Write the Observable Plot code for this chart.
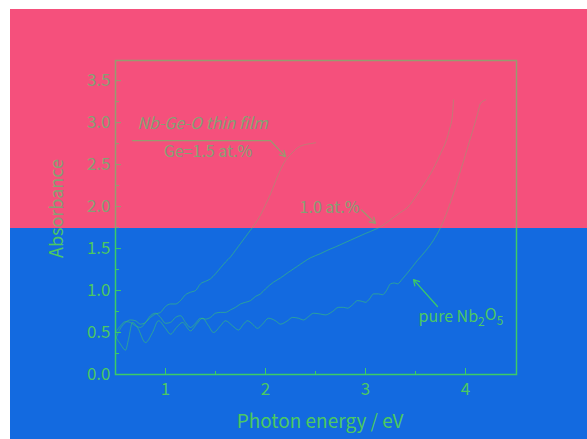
<!DOCTYPE html>
<html><head><meta charset="utf-8">
<script src="https://cdn.jsdelivr.net/npm/d3@7"></script>
<script src="https://cdn.jsdelivr.net/npm/@observablehq/plot@0.6"></script>
<style>
body{margin:0;background:#fff;width:587px;height:439px;overflow:hidden;}
#wrap{position:absolute;left:10px;top:9px;width:577px;height:430px;background:linear-gradient(#F5507C 0,#F5507C 219px,#136AE0 219px,#136AE0 100%);}
</style></head><body><div id="wrap"></div>
<script>
// ---- data ----
const ge15Energy = [0.5,0.55,0.6,0.65,0.7,0.75,0.8,0.85,0.9,0.95,1.0,1.05,1.1,1.15,1.2,1.25,1.3,1.35,1.4,1.45,1.5,1.55,1.6,1.65,1.7,1.75,1.8,1.85,1.9,1.95,2.0,2.05,2.1,2.15,2.2,2.25,2.3,2.35,2.4,2.45,2.5];
const ge15Abs = [0.42,0.55,0.62,0.65,0.64,0.6,0.62,0.68,0.72,0.74,0.81,0.84,0.84,0.88,0.95,0.98,1.0,1.08,1.11,1.14,1.2,1.27,1.34,1.4,1.48,1.56,1.64,1.72,1.8,1.9,2.02,2.15,2.3,2.44,2.55,2.62,2.68,2.72,2.74,2.75,2.76];

const ge10Energy = [0.5,0.55,0.6,0.65,0.7,0.75,0.8,0.85,0.9,0.95,1.0,1.05,1.1,1.15,1.2,1.25,1.3,1.35,1.4,1.45,1.5,1.55,1.6,1.65,1.7,1.75,1.8,1.85,1.9,1.95,2.0,2.08,2.15,2.22,2.32,2.45,2.55,2.62,2.7,2.85,3.0,3.1,3.15,3.2,3.28,3.35,3.42,3.52,3.6,3.65,3.7,3.75,3.8,3.84,3.87,3.88];
const ge10Abs = [0.5,0.58,0.63,0.62,0.58,0.56,0.62,0.7,0.73,0.68,0.61,0.62,0.68,0.7,0.62,0.56,0.61,0.67,0.66,0.68,0.73,0.74,0.74,0.77,0.8,0.84,0.86,0.88,0.93,0.96,1.02,1.1,1.15,1.21,1.29,1.39,1.44,1.48,1.52,1.6,1.68,1.73,1.76,1.8,1.87,1.93,1.99,2.15,2.29,2.39,2.5,2.63,2.76,2.92,3.1,3.27];

const pureEnergy = [0.5,0.55,0.6,0.63,0.67,0.72,0.8,0.87,0.93,1.0,1.05,1.11,1.17,1.25,1.31,1.37,1.43,1.48,1.55,1.6,1.67,1.73,1.78,1.82,1.87,1.92,1.97,2.03,2.1,2.15,2.22,2.27,2.33,2.38,2.43,2.48,2.55,2.6,2.67,2.73,2.78,2.82,2.87,2.92,2.97,3.0,3.04,3.08,3.13,3.17,3.21,3.25,3.29,3.32,3.37,3.42,3.52,3.6,3.68,3.75,3.82,3.92,4.02,4.12,4.15,4.2];
const pureAbs = [0.45,0.36,0.29,0.42,0.62,0.56,0.38,0.5,0.64,0.55,0.48,0.56,0.62,0.52,0.6,0.67,0.58,0.5,0.58,0.64,0.58,0.53,0.6,0.64,0.6,0.55,0.6,0.67,0.64,0.6,0.64,0.68,0.67,0.65,0.69,0.73,0.72,0.71,0.75,0.8,0.8,0.79,0.83,0.88,0.87,0.86,0.9,0.96,0.96,0.95,1.0,1.08,1.09,1.08,1.14,1.21,1.36,1.47,1.6,1.75,1.95,2.31,2.7,3.1,3.23,3.27];

const xMajorTicks = [1, 2, 3, 4];
const xMinorTicks = [1.5, 2.5, 3.5];
const yMajorTicks = [0, 0.5, 1.0, 1.5, 2.0, 2.5, 3.0, 3.5];
const yMinorTicks = [0.25, 0.75, 1.25, 1.75, 2.25, 2.75, 3.25];
const xLabel = "Photon energy / eV";
const yLabel = "Absorbance";

// annotations (data coordinates)
const titleNote = {x: 1.37, y: 2.98, text: "Nb-Ge-O thin film"};
const ge15Note = {x: 1.425, y: 2.655, text: "Ge=1.5 at.%"};
const ge10Note = {x: 2.64, y: 1.99, text: "1.0 at.%"};
const pureNote = {x: 3.53, y: 0.69, text: "pure Nb2O5"};
const ge15Leader = [{x: 0.67, y: 2.786}, {x: 2.05, y: 2.786}];
const arrows = [
  {x1: 2.05, y1: 2.786, x2: 2.2, y2: 2.595},
  {x1: 2.96, y1: 1.96, x2: 3.1, y2: 1.8},
  {x1: 3.72, y1: 0.81, x2: 3.48, y2: 1.13}
];

// ---- build ----
const series = [
  ...ge15Energy.map((e, i) => ({s: "1.5", e, a: ge15Abs[i]})),
  ...ge10Energy.map((e, i) => ({s: "1.0", e, a: ge10Abs[i]})),
  ...pureEnergy.map((e, i) => ({s: "0", e, a: pureAbs[i]}))
];

const TOP = "#969c70", BOT = "#3ccb66";
const TOPTXT = "#86a074", BOTTXT = "#4cc862";
const FONT = "'Noto Sans CJK JP', 'DejaVu Sans', sans-serif";
const notes = [titleNote, ge15Note, ge10Note];

const chart = Plot.plot({
  width: 577, height: 430,
  marginLeft: 105, marginRight: 71, marginTop: 51, marginBottom: 65,
  style: {background: "transparent", fontFamily: FONT, fontSize: "17px", color: TOP},
  x: {domain: [0.5, 4.51], label: null},
  y: {domain: [0, 3.74], label: null},
  marks: [
    Plot.frame({stroke: TOP, strokeWidth: 1.5}),
    Plot.axisX({ticks: xMajorTicks, tickSize: -6, tickPadding: 14, tickFormat: d => String(d), label: null, fontSize: 17}),
    Plot.axisX({ticks: xMinorTicks, tickSize: -3, tickFormat: () => "", label: null}),
    Plot.axisY({ticks: yMajorTicks, tickSize: -6, tickPadding: 11, tickFormat: d3.format(".1f"), label: null, fontSize: 17}),
    Plot.axisY({ticks: yMinorTicks, tickSize: -4, tickFormat: () => "", label: null}),
    Plot.line(series, {x: "e", y: "a", z: "s", stroke: TOP, strokeWidth: 1, strokeOpacity: 0.55, curve: "monotone-x"}),
    Plot.line(ge15Leader, {x: "x", y: "y", stroke: TOP, strokeWidth: 1.2}),
    Plot.arrow(arrows, {x1: "x1", y1: "y1", x2: "x2", y2: "y2", stroke: TOP, strokeWidth: 1.2, headLength: 8, bend: 0}),
    Plot.text(notes, {x: "x", y: "y", text: "text", fontSize: 16, fill: TOPTXT}),
    Plot.text([pureNote], {x: "x", y: "y", text: "text", fontSize: 16, fill: TOPTXT, textAnchor: "start"}),
    Plot.text([xLabel], {frameAnchor: "bottom", dy: 53, dx: 4, fontSize: 19, fill: TOPTXT}),
    Plot.text([yLabel], {frameAnchor: "left", textAnchor: "middle", rotate: -90, dx: -58, dy: -9, fontSize: 18, fill: TOPTXT})
  ]
});
document.getElementById("wrap").appendChild(chart);

// italic for title note
d3.select(chart).selectAll("text").filter(function(){ return this.textContent === titleNote.text; }).attr("font-style", "italic");

// subscripts for Nb2O5
d3.select(chart).selectAll("text").filter(function(){ return this.textContent === pureNote.text; }).each(function(){
  const t = d3.select(this);
  t.text(null);
  t.append("tspan").text("pure Nb");
  t.append("tspan").attr("dy", "0.4em").attr("font-size", "12").text("2");
  t.append("tspan").attr("dy", "-0.4em").text("O");
  t.append("tspan").attr("dy", "0.4em").attr("font-size", "12").text("5");
});

// colour by background region
const svg = d3.select(chart);
const defs = svg.insert("defs", ":first-child");
const grad = defs.append("linearGradient").attr("id", "split").attr("gradientUnits", "userSpaceOnUse")
  .attr("x1", 0).attr("y1", 0).attr("x2", 0).attr("y2", 430);
const f = 219 / 430;
grad.append("stop").attr("offset", f).attr("stop-color", TOP);
grad.append("stop").attr("offset", f).attr("stop-color", BOT);
const boundary = 9 + 219;
svg.selectAll("path, line, rect").each(function(){
  const cs = getComputedStyle(this);
  if (!cs.stroke || cs.stroke === "none") return;
  const r = this.getBoundingClientRect();
  if (r.bottom <= boundary) this.setAttribute("stroke", TOP);
  else if (r.top >= boundary) this.setAttribute("stroke", BOT);
  else this.setAttribute("stroke", "url(#split)");
});
svg.selectAll("text").each(function(){
  const r = this.getBoundingClientRect();
  if (this.textContent === yLabel && r.top < boundary && r.bottom > boundary) {
    // rotated label crossing the colour boundary: split along its own length
    const frac = (r.bottom - boundary) / r.height;
    const g = defs.append("linearGradient").attr("id", "ysplit")
      .attr("x1", 0).attr("y1", 0).attr("x2", 1).attr("y2", 0);
    g.append("stop").attr("offset", frac).attr("stop-color", BOTTXT);
    g.append("stop").attr("offset", frac).attr("stop-color", TOPTXT);
    this.setAttribute("fill", "url(#ysplit)");
    return;
  }
  const c = (r.top + r.bottom) / 2;
  this.setAttribute("fill", c < boundary ? TOPTXT : BOTTXT);
});
</script>
</body></html>
